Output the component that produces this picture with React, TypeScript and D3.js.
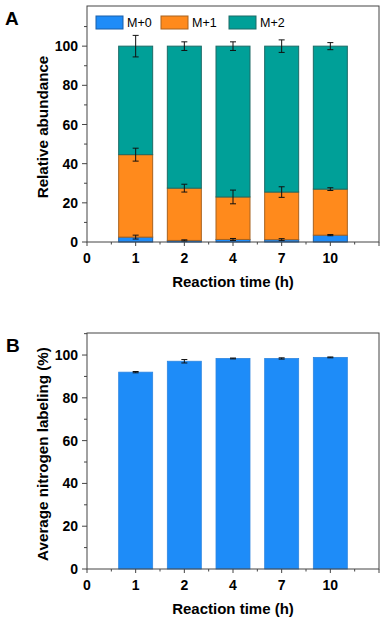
import React from "react";
import * as d3 from "d3";

const times = ["1", "2", "4", "7", "10"];
const series = ["M+0", "M+1", "M+2"];
const m0 = [2.5, 0.8, 1.3, 1.2, 3.5];
const m1 = [42.1, 26.7, 21.7, 24.3, 23.5];
const m2 = [55.4, 72.5, 77.0, 74.5, 73.0];
const m0Err = [1.0, 0.3, 0.5, 0.5, 0.3];
const m1Err = [3.3, 2.0, 3.5, 2.7, 0.7];
const m2Err = [5.5, 2.2, 2.2, 3.2, 1.8];
const labeling = [92.0, 97.1, 98.4, 98.4, 98.9];
const labelingErr = [0.3, 0.8, 0.2, 0.3, 0.2];

const fills = ["#1E8CF8", "#FF8A1C", "#00A098"];
const strokes = ["#1A5FA8", "#A8621E", "#1C6B66"];
const font = "'Liberation Sans', Arial, sans-serif";
const axisColor = "#444";

const left = 87;
const right = 379;
const xTicks = ["0", ...times];

function Frame({ y, top, bottom, max, yLabel, panel }) {
  const x = d3.scaleLinear().domain([0, 6]).range([left, right]);
  const major = d3.range(0, 101, 20);
  const minor = d3.range(10, max + 1, 20);
  return (
    <g fontFamily={font}>
      <rect x={left} y={top} width={right - left} height={bottom - top} fill="none" stroke={axisColor} strokeWidth={1} />
      {major.map((v) => (
        <g key={"M" + v}>
          <line x1={left - 5} x2={left} y1={y(v)} y2={y(v)} stroke={axisColor} />
          <text x={left - 9} y={y(v)} dy="0.36em" textAnchor="end" fontSize={14} fontWeight="bold">{v}</text>
        </g>
      ))}
      {minor.map((v) => (
        <line key={"m" + v} x1={left - 3} x2={left} y1={y(v)} y2={y(v)} stroke={axisColor} />
      ))}
      {xTicks.map((t, i) => (
        <g key={"x" + i}>
          <line x1={x(i)} x2={x(i)} y1={bottom} y2={bottom + 4} stroke={axisColor} />
          <text x={x(i)} y={bottom + 21} textAnchor="middle" fontSize={14} fontWeight="bold">{t}</text>
        </g>
      ))}
      <line x1={x(6)} x2={x(6)} y1={bottom} y2={bottom + 4} stroke={axisColor} />
      {d3.range(0.5, 6, 1).map((v) => (
        <line key={"xm" + v} x1={x(v)} x2={x(v)} y1={bottom} y2={bottom + 2.5} stroke={axisColor} />
      ))}
      <text x={(left + right) / 2 - 0} y={bottom + 45} textAnchor="middle" fontSize={15} fontWeight="bold">Reaction time (h)</text>
      <text transform={`translate(48,${(top + bottom) / 2 + 3}) rotate(-90)`} textAnchor="middle" fontSize={15.2} fontWeight="bold">{yLabel}</text>
      <text x={panel.x} y={panel.y} fontSize={19} fontWeight="bold">{panel.t}</text>
    </g>
  );
}

function ErrBar({ cx, v, e, y }) {
  return (
    <g stroke="#111" strokeWidth={1}>
      <line x1={cx} x2={cx} y1={y(v - e)} y2={y(v + e)} />
      <line x1={cx - 3} x2={cx + 3} y1={y(v - e)} y2={y(v - e)} />
      <line x1={cx - 3} x2={cx + 3} y1={y(v + e)} y2={y(v + e)} />
    </g>
  );
}

function ChartA() {
  const top = 6, bottom = 242;
  const y = d3.scaleLinear().domain([0, 120.5]).range([bottom, top]);
  const x = d3.scaleLinear().domain([0, 6]).range([left, right]);
  const bw = 34;
  const rows = times.map((t, i) => ({ t, "M+0": m0[i], "M+1": m1[i], "M+2": m2[i] }));
  const stacked = d3.stack().keys(series)(rows);
  const errs = [m0Err, m1Err, m2Err];
  return (
    <g>
      {stacked.map((layer, k) => (
        <g key={layer.key}>
          {layer.map((d, i) => (
            <rect key={i} x={x(i + 1) - bw / 2} y={y(d[1])} width={bw} height={y(d[0]) - y(d[1])} fill={fills[k]} stroke={strokes[k]} strokeWidth={1} />
          ))}
        </g>
      ))}
      {stacked.map((layer, k) =>
        layer.map((d, i) => <ErrBar key={k + "-" + i} cx={x(i + 1)} v={d[1]} e={errs[k][i]} y={y} />)
      )}
      <Frame y={y} top={top} bottom={bottom} max={110} yLabel="Relative abundance" panel={{ x: 5, y: 25, t: "A" }} />
      <g fontFamily={font}>
        {series.map((s, k) => {
          const lx = [96, 161, 229][k];
          return (
            <g key={s}>
              <rect x={lx} y={16} width={27} height={13} fill={fills[k]} stroke={strokes[k]} />
              <text x={lx + 31} y={27} fontSize={12.5}>{s}</text>
            </g>
          );
        })}
      </g>
    </g>
  );
}

function ChartB() {
  const top = 333, bottom = 569;
  const y = d3.scaleLinear().domain([0, 110.3]).range([bottom, top]);
  const x = d3.scaleLinear().domain([0, 6]).range([left, right]);
  const bw = 34;
  return (
    <g>
      {labeling.map((v, i) => (
        <rect key={i} x={x(i + 1) - bw / 2} y={y(v)} width={bw} height={y(0) - y(v)} fill="#1E8CF8" stroke="#2D86E0" strokeWidth={0.8} />
      ))}
      {labeling.map((v, i) => (
        <ErrBar key={"e" + i} cx={x(i + 1)} v={v} e={labelingErr[i]} y={y} />
      ))}
      <Frame y={y} top={top} bottom={bottom} max={110} yLabel="Average nitrogen labeling (%)" panel={{ x: 6, y: 352, t: "B" }} />
    </g>
  );
}

export default function App() {
  return (
    <svg width={390} height={619} style={{ position: "absolute", left: 0, top: 0, background: "#fff" }}>
      <rect width={390} height={619} fill="#fff" />
      <ChartA />
      <ChartB />
    </svg>
  );
}
